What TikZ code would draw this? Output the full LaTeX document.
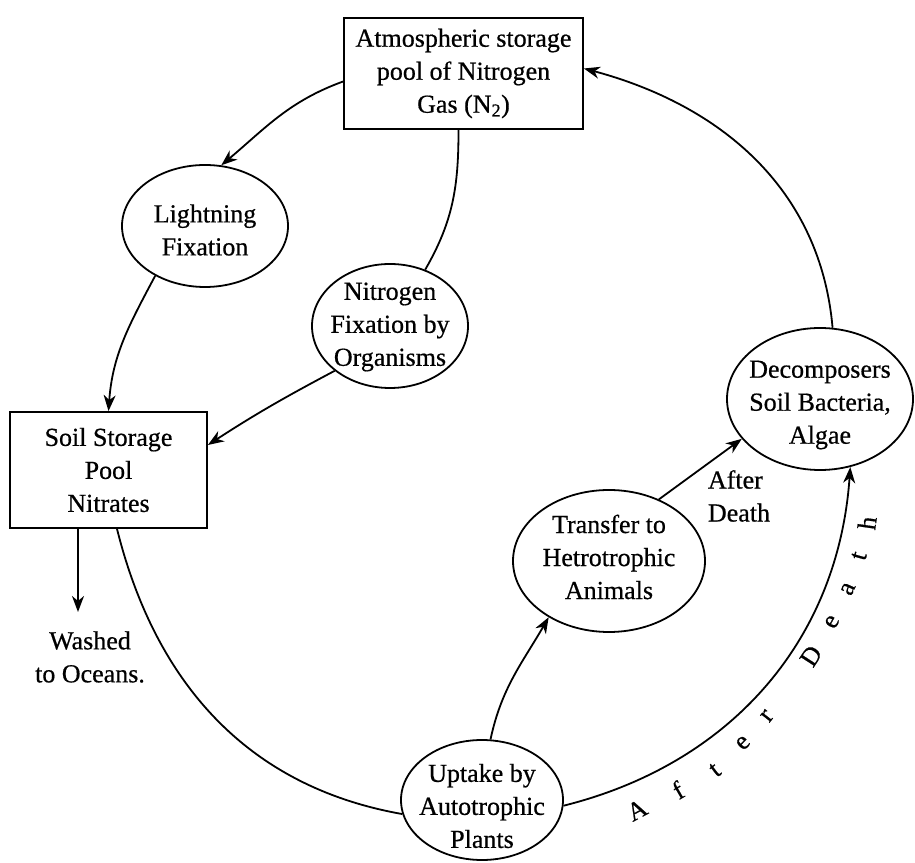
\documentclass[tikz,border=0pt]{standalone}
\usepackage{fontspec}
\setmainfont{Liberation Serif}[FakeBold=0.6]
\usetikzlibrary{shapes.geometric,arrows.meta}
\begin{document}
\begin{tikzpicture}[x=1pt,y=1pt,
  every node/.style={font=\fontsize{26}{33}\selectfont},
  conn/.style={line width=1.8pt},
  arr/.style={conn,-{Stealth[length=16pt,width=12pt,inset=5pt]}},
  box/.style={draw,line width=1.8pt,rectangle,align=center,inner sep=0pt},
  oval/.style={draw,line width=1.8pt,ellipse,inner sep=0pt},
  lbl/.style={align=center,inner sep=0pt},
  ch/.style={inner sep=0pt}]
\useasboundingbox (0,0) rectangle (915,862);
% boxes
\node[box,minimum width=239pt,minimum height=111pt] (top) at (463.5,788.5)
  {Atmospheric storage\\pool of Nitrogen\\Gas (N\textsubscript{2})};
\node[box,minimum width=197pt,minimum height=116pt] (soil) at (108.5,392)
  {Soil Storage\\Pool\\Nitrates};
% ellipses
\node[oval,minimum width=166pt,minimum height=122pt] (lf) at (205,636) {};
\node[lbl] (lft) at (205,632) {Lightning\\Fixation};
\node[oval,minimum width=156pt,minimum height=124pt] (nf) at (390,536) {};
\node[lbl] (nft) at (390,535) {Nitrogen\\Fixation by\\Organisms};
\node[oval,minimum width=186pt,minimum height=142pt] (dc) at (820,463) {};
\node[lbl] (dct) at (820,457) {Decomposers\\Soil Bacteria,\\Algae};
\node[oval,minimum width=192pt,minimum height=142pt] (tr) at (609,301) {};
\node[lbl] (trt) at (609,305) {Transfer to\\Hetrotrophic\\Animals};
\node[oval,minimum width=162pt,minimum height=120pt] (up) at (482,62) {};
\node[lbl] (upt) at (482,56) {Uptake by\\Autotrophic\\Plants};
% labels
\node[lbl] (wash) at (90,205) {Washed\\to Oceans.};
\node[lbl,align=left] (ad) at (739,366) {After\\Death};
\coordinate (wb) at (78,250);
% connectors
\draw[arr] ([yshift=-8pt]top.west) to[out=200,in=40] (lf.75);
\draw[arr] (lf.225) to[out=242,in=86] (soil.north);
\draw[conn] ([xshift=-5pt]top.south) to[out=270,in=60] (nf.58);
\draw[arr] (nf.219) to[out=208,in=33] ([yshift=25pt]soil.east);
\draw[conn] ([xshift=8.5pt]soil.south) to[out=284,in=170] (up.190);
\draw[arr] ([xshift=-30.5pt]soil.south) -- (wb);
\draw[arr] (up.82) to[out=78,in=240] (tr.223);
\draw[arr] (tr.51) -- (dc.207);
\draw[arr] (up.356) to[out=14,in=266] (dc.294);
\draw[arr] (dc.80) to[out=95,in=-15] ([yshift=5pt]top.east);
% letters along the arc
\node[ch,rotate=28] (l1) at (637,52) {A};
\node[ch,rotate=30] (l2) at (678,72) {f};
\node[ch,rotate=38] (l3) at (715,92) {t};
\node[ch,rotate=46] (l4) at (743,119) {e};
\node[ch,rotate=52] (l5) at (767,146) {r};
\node[ch,rotate=57] (l6) at (811,206) {D};
\node[ch,rotate=61] (l7) at (832,240) {e};
\node[ch,rotate=66] (l8) at (848,273) {a};
\node[ch,rotate=74] (l9) at (859,306) {t};
\node[ch,rotate=82] (l10) at (867,339) {h};
\end{tikzpicture}
\end{document}
